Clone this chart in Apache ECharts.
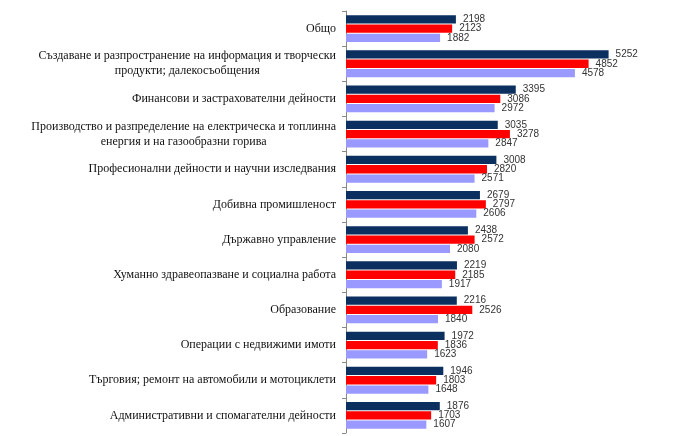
<!DOCTYPE html>
<html>
<head>
<meta charset="utf-8">
<script src="https://cdn.jsdelivr.net/npm/echarts@6/dist/echarts.min.js"></script>
<style>
  html, body { margin: 0; padding: 0; background: #fff; }
  #chart { width: 696px; height: 436px; }
</style>
</head>
<body>
<div id="chart"></div>
<script>
// categories, top to bottom
var categories = [
  'Общо',
  'Създаване и разпространение на информация и творчески\nпродукти; далекосъобщения',
  'Финансови и застрахователни дейности',
  'Производство и разпределение на електрическа и топлинна\nенергия и на газообразни горива',
  'Професионални дейности и научни изследвания',
  'Добивна промишленост',
  'Държавно управление',
  'Хуманно здравеопазване и социална работа',
  'Образование',
  'Операции с недвижими имоти',
  'Търговия; ремонт на автомобили и мотоциклети',
  'Административни и спомагателни дейности'
];

// three series (navy, red, lavender)
var seriesA = [2198, 5252, 3395, 3035, 3008, 2679, 2438, 2219, 2216, 1972, 1946, 1876];
var seriesB = [2123, 4852, 3086, 3278, 2820, 2797, 2572, 2185, 2526, 1836, 1803, 1703];
var seriesC = [1882, 4578, 2972, 2847, 2571, 2606, 2080, 1917, 1840, 1623, 1648, 1607];

var colors = ['#0b2f5f', '#ff0000', '#9999ff'];

var myChart = echarts.init(document.getElementById('chart'));

function makeSeries(data, color) {
  return {
    type: 'bar',
    data: data,
    barWidth: 8.3,
    barGap: '12%',
    itemStyle: { color: color },
    label: {
      show: true,
      position: 'right',
      distance: 7,
      fontFamily: 'Liberation Sans',
      fontSize: 10,
      color: '#333'
    },
    silent: true
  };
}

var option = {
  animation: false,
  grid: { left: 346, top: 11, width: 300, bottom: 3 },
  xAxis: {
    type: 'value',
    min: 0,
    max: 6000,
    axisLabel: { show: false },
    axisLine: { show: false },
    axisTick: { show: false },
    splitLine: { show: false }
  },
  yAxis: {
    type: 'category',
    inverse: true,
    data: categories,
    axisLine: { show: true, lineStyle: { color: '#888', width: 1 } },
    axisTick: { show: true, length: 4, lineStyle: { color: '#888' } },
    axisLabel: {
      margin: 10,
      fontFamily: 'Liberation Serif',
      fontSize: 12,
      color: '#111',
      formatter: function (v) {
        return v.split('\n').map(function (s) { return '{c|' + s + '}'; }).join('\n');
      },
      rich: {
        c: {
          align: 'center',
          fontFamily: 'Liberation Serif',
          fontSize: 12,
          lineHeight: 15,
          color: '#111'
        }
      }
    }
  },
  series: [
    makeSeries(seriesA, colors[0]),
    makeSeries(seriesB, colors[1]),
    makeSeries(seriesC, colors[2])
  ]
};

myChart.setOption(option);
</script>
</body>
</html>
